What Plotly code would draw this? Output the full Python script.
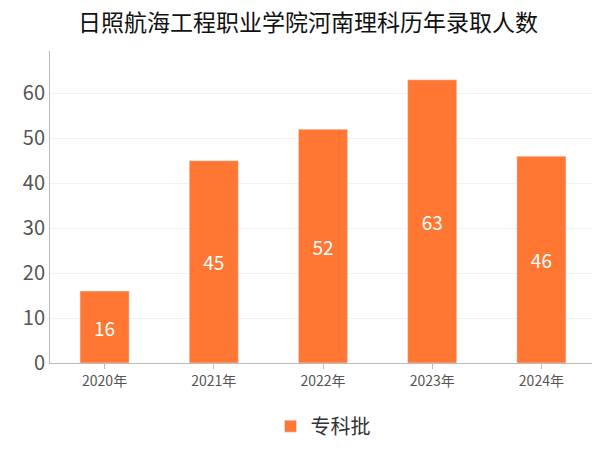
import plotly.graph_objects as go

years = ["2020年", "2021年", "2022年", "2023年", "2024年"]
counts = [16, 45, 52, 63, 46]
series_name = "专科批"

fig = go.Figure(go.Bar(
    x=years, y=counts, name=series_name, width=0.45,
    marker_color="#FF7733",
    text=counts, textposition="inside", insidetextanchor="middle",
    textfont=dict(color="white", size=19),
    showlegend=True,
))
fig.update_layout(
    width=600, height=450,
    margin=dict(l=42, r=12, t=43, b=68),
    paper_bgcolor="white", plot_bgcolor="white",
    font=dict(family="Noto Sans CJK SC, Noto Sans, sans-serif"),
    title=dict(text="日照航海工程职业学院河南理科历年录取人数", x=0.5, xanchor="center",
               y=0.985, yanchor="top", font=dict(size=23, color="#111")),
    xaxis=dict(showline=True, linecolor="#bbb", tickfont=dict(size=14, color="#555"),
               ticks="outside", ticklen=5, tickcolor="#bbb"),
    yaxis=dict(range=[0, 69.4], dtick=10, showline=True, linecolor="#bbb",
               gridcolor="#f2f2f2", tickfont=dict(size=20, color="#555"), zeroline=False),
    legend=dict(orientation="h", x=0.5, xanchor="center", y=-0.14, yanchor="top",
                font=dict(size=20, color="#333")),
)
fig.write_html("out.html")
